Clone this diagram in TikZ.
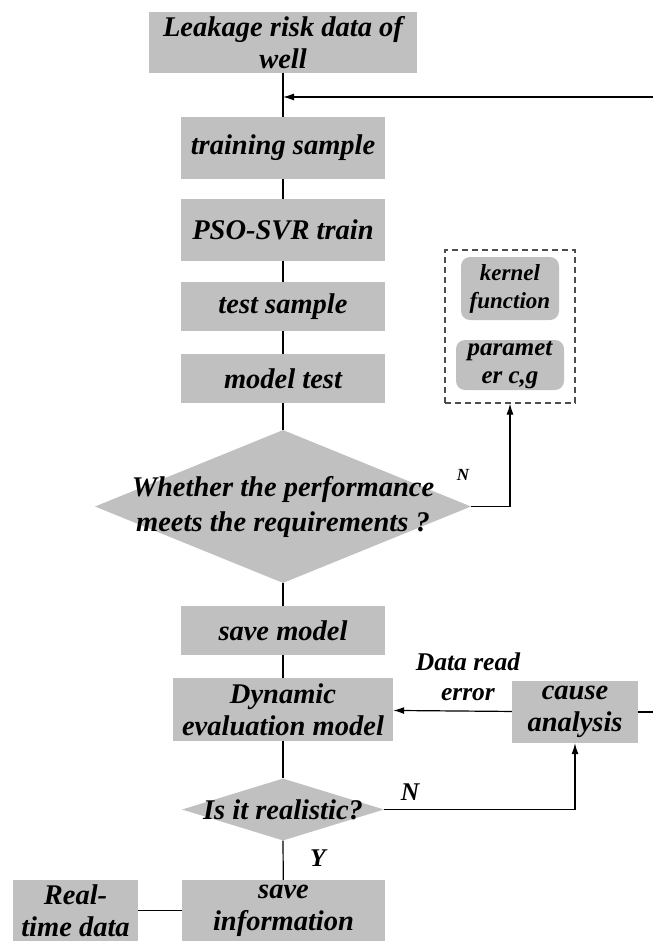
\documentclass[tikz,border=0pt]{standalone}
\usepackage{fontspec}
\setmainfont{Liberation Serif}
\usetikzlibrary{positioning,shapes.geometric,arrows.meta}
\definecolor{boxgray}{RGB}{192,192,192}

\begin{document}
\begin{tikzpicture}[x=1pt,y=-1pt]

    \tikzstyle{block}=[fill=boxgray,draw=none,inner sep=0pt,align=center,minimum width=204pt,font=\fontsize{28.5}{32}\selectfont\bfseries\itshape]
    \tikzstyle{soft}=[fill=boxgray,draw=none,rounded corners=9pt,inner sep=0pt,align=center,font=\fontsize{23}{28}\selectfont\bfseries\itshape]
    \tikzstyle{dtext}=[inner sep=0pt,align=center,font=\fontsize{28.5}{35}\selectfont\bfseries\itshape]
    \tikzstyle{tag}=[inner sep=0pt,align=center,font=\fontsize{25.5}{30}\selectfont\bfseries\itshape]
    \tikzstyle{link}=[line width=1.2pt,black]
    \tikzstyle{flow}=[line width=1.2pt,black,-{Latex[length=11pt,width=7pt]}]

\useasboundingbox (0,0) rectangle (653,941);
\clip (0,0) rectangle (653,941);

\node (data) [block,minimum width=268pt,minimum height=61pt] at (283,42.5) {Leakage risk data of\\well};
\node (train) [block,minimum height=62pt] at (283,148) {training sample};
\node (pso) [block,minimum height=62pt] at (283,230) {PSO-SVR train};
\node (test) [block,minimum height=49pt] at (283,306.5) {test sample};
\node (mtest) [block,minimum height=49pt] at (283,378.5) {model test};

\node (judge) [diamond,fill=boxgray,inner sep=0pt,minimum width=376pt,minimum height=153pt] at (283,506.5) {};
\node (judge_t) [dtext] at (judge.center) {Whether the performance\\meets the requirements ?};

\node (tune) [draw=black!70,line width=1.2pt,dash pattern=on 6pt off 4pt,minimum width=130pt,minimum height=153pt] at (510,326.5) {};
\node (kernel) [soft,minimum width=98pt,minimum height=63pt] at (510,288.5) {kernel\\function};
\node (param) [soft,minimum width=108pt,minimum height=50pt,font=\fontsize{25}{28}\selectfont\bfseries\itshape] at (510,365) {paramet\\er c,g};

\node (save) [block,minimum height=49pt] at (283,630.5) {save model};
\node (dyn) [block,minimum width=220pt,minimum height=63pt] at (283,709.5) {Dynamic\\evaluation model};
\node (cause) [block,minimum width=126pt,minimum height=62pt] at (575,712) {cause\\analysis};

\node (real) [diamond,fill=boxgray,inner sep=0pt,minimum width=202pt,minimum height=62pt] at (283,809.5) {};
\node (real_t) [dtext] at (real.center) {Is it realistic?};

\node (info) [block,minimum width=203pt,minimum height=61pt] at (283.5,910.5) {save\\information};
\node (rt) [block,minimum width=125pt,minimum height=61pt] at (75.5,910.5) {Real-\\time data};

\node (Label1) [tag,font=\fontsize{17}{20}\selectfont\bfseries\itshape] at (463,475) {N};
\node (Label2) [tag] at (410,792) {N};
\node (Label3) [tag] at (318,858) {Y};
\node (Label4) [tag] at (468,677) {Data read\\error};

\coordinate (fb_in) at (653,97);
\coordinate (fb_join) at (283,97);
\coordinate (fb_out) at (653,712);

% main line
\draw[link] (data) -- (train);
\draw[link] (train) -- (pso);
\draw[link] (pso) -- (test);
\draw[link] (test) -- (mtest);
\draw[link] (mtest) -- (judge.north);
\draw[link] (judge.south) -- (save);
\draw[link] (save) -- (dyn);
\draw[link] (dyn) -- (real.north);
\draw[link] (real.south) -- (info);
\draw[link] (info) -- (rt);

% loops back
\draw[flow] (fb_in) -- (fb_join);
\draw[flow] (judge.east) -| (tune.south);
\draw[flow] (real.east) -| (cause.south);
\draw[flow] (cause) -- (dyn);
\draw[link] (cause) -- (fb_out);

\end{tikzpicture}
\end{document}
